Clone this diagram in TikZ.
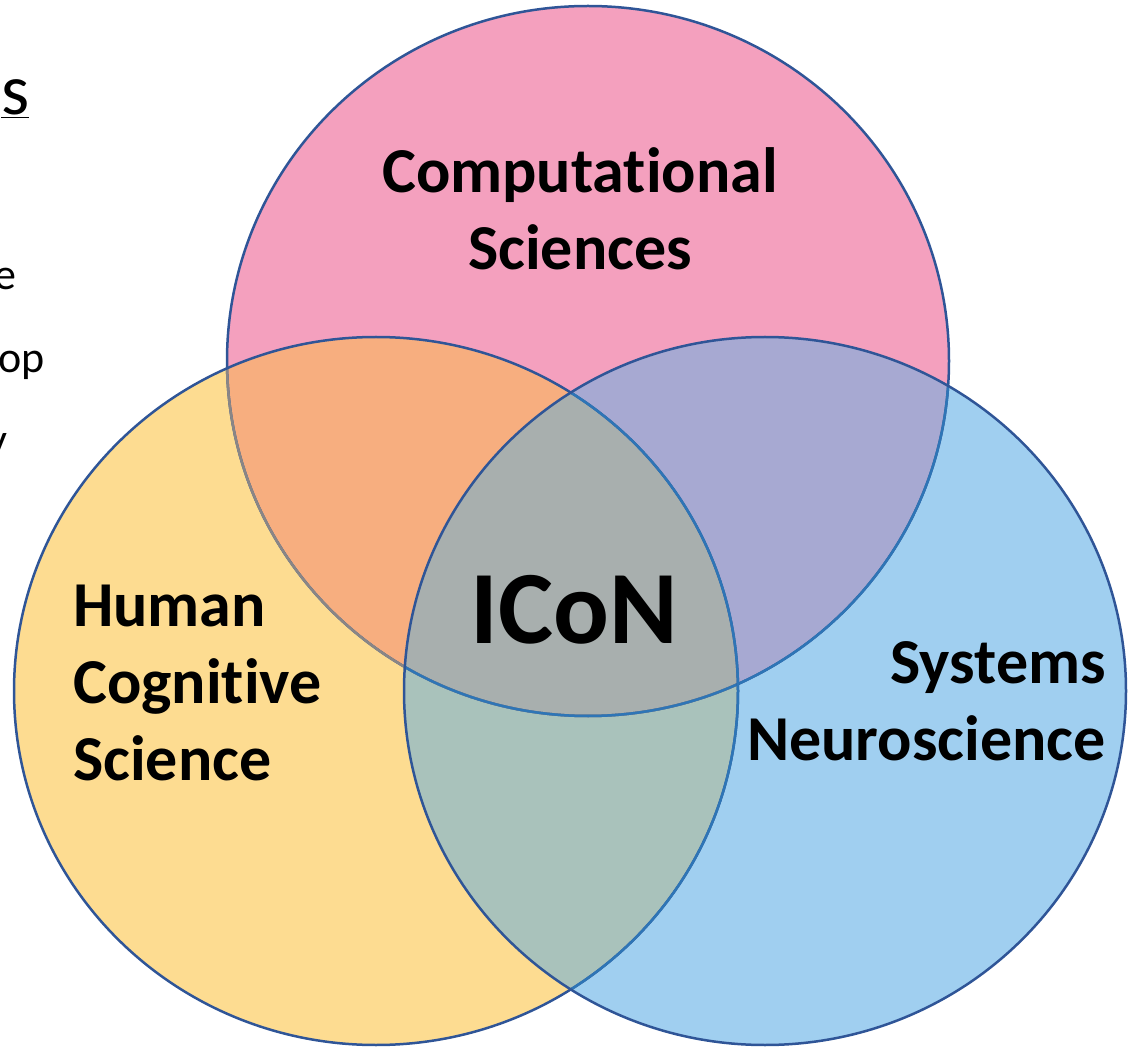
\documentclass[tikz,border=0pt]{standalone}
\usepackage{fontspec}
\setmainfont{Carlito}[Ligatures={NoCommon}]
\begin{document}
\begin{tikzpicture}[x=1pt,y=1pt,
  rim/.style={line width=2.5pt},
  label/.style={inner sep=0pt, font=\bfseries\fontsize{64}{77}\selectfont},
  side/.style={inner sep=0pt, font=\fontsize{44}{52}\selectfont}]
\definecolor{rimdark}{RGB}{47,85,151}
\definecolor{rimblue}{RGB}{46,117,182}
\definecolor{rimgrey}{RGB}{138,134,133}
\definecolor{cpink}{RGB}{244,160,190}
\definecolor{cyellow}{RGB}{253,220,145}
\definecolor{cblue}{RGB}{160,207,240}
\definecolor{corange}{RGB}{247,174,127}
\definecolor{cpurple}{RGB}{167,169,210}
\definecolor{cteal}{RGB}{169,194,187}
\definecolor{cgrey}{RGB}{168,175,174}
\def\pinkpath{(588,-361) ellipse [x radius=361pt, y radius=355pt]}
\def\yellowpath{(376,-691) ellipse [x radius=362pt, y radius=354pt]}
\def\bluepath{(765,-691) ellipse [x radius=361pt, y radius=354pt]}
\useasboundingbox (0,0) rectangle (1128,-1048);
\clip (0,0) rectangle (1128,-1048);

% single-set fills
\fill[cpink] \pinkpath;
\fill[cyellow] \yellowpath;
\fill[cblue] \bluepath;
% pairwise overlaps
\begin{scope}
  \clip \pinkpath;
  \fill[corange] \yellowpath;
  \fill[cpurple] \bluepath;
\end{scope}
\begin{scope}
  \clip \yellowpath;
  \fill[cteal] \bluepath;
\end{scope}
% centre
\begin{scope}
  \clip \pinkpath;
  \clip \yellowpath;
  \fill[cgrey] \bluepath;
\end{scope}

% outlines, muted where a later set lies over them
\draw[rim, rimdark] \pinkpath;
\begin{scope}
  \clip \yellowpath;
  \draw[rim, rimgrey] \pinkpath;
\end{scope}
\begin{scope}
  \clip \bluepath;
  \draw[rim, rimblue] \pinkpath;
\end{scope}
\draw[rim, rimdark] \yellowpath;
\begin{scope}
  \clip \bluepath;
  \draw[rim, rimblue] \yellowpath;
\end{scope}
\draw[rim, rimdark] \bluepath;

% set labels (base anchor sits on the last line)
\node[label, align=center, anchor=base] (comp) at (580,-270) {Computational\\Sciences};
\node[label, align=left, anchor=base west] (human) at (73,-780) {Human\\Cognitive\\Science};
\node[label, align=right, anchor=base east] (sys) at (1106,-760) {Systems\\Neuroscience};
\node[inner sep=0pt, font=\bfseries\fontsize{104}{114}\selectfont, anchor=base] (icon) at (574,-643) {ICoN};

% text running in from the left edge
\node[inner sep=0pt, font=\fontsize{72}{76}\selectfont, anchor=base west] (head) at (1,-115) {\underline{s}};
\node[side, anchor=base west] (frag1) at (-6,-290) {e};
\node[side, anchor=base west] (frag2) at (-2,-373) {op};
\node[side, anchor=base west] (frag3) at (-13,-455) {y};
\end{tikzpicture}
\end{document}
